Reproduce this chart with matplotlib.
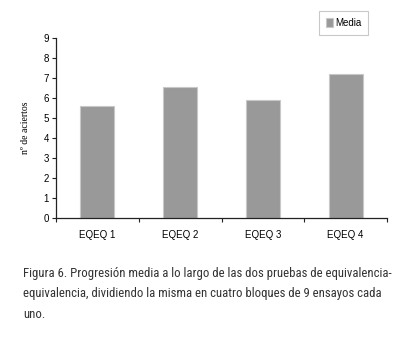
import matplotlib
matplotlib.use("Agg")
import matplotlib.pyplot as plt
from matplotlib import font_manager

categories = ["EQEQ 1", "EQEQ 2", "EQEQ 3", "EQEQ 4"]
media = [5.6, 6.55, 5.9, 7.2]
yticks = list(range(0, 10))
series_name = "Media"
caption_lines = ["Figura 6. Progresión media a lo largo de las dos pruebas de equivalencia-",
                 "equivalencia, dividiendo la misma en cuatro bloques de 9 ensayos cada",
                 "uno."]

names = {f.name for f in font_manager.fontManager.ttflist}
cap_font = "Liberation Sans"
for cand in ["Liberation Sans Narrow", "Roboto Condensed", "Open Sans Condensed", "DejaVu Sans Condensed"]:
    if cand in names:
        cap_font = cand
        break

fig = plt.figure(figsize=(4.09, 3.43), dpi=100)
ax = fig.add_axes([56/409, 1-218/343, (387-56)/409, (218-38)/343])
x = list(range(len(categories)))
ax.bar(x, media, width=0.41, color="#999999", edgecolor="#c8c8c8", linewidth=0.8, label=series_name)
ax.set_xlim(-0.5, 3.5)
ax.set_ylim(0, 9)
ax.set_yticks(yticks)
ax.set_xticks(x)
ax.set_xticklabels(categories, fontfamily="Liberation Sans", fontsize=7)
ax.set_xticks([-0.5, 0.5, 1.5, 2.5, 3.5], minor=True)
ax.tick_params(axis="x", which="major", length=0, pad=9)
ax.tick_params(axis="x", which="minor", length=3, width=0.8, direction="out", color="#222222")
ax.tick_params(axis="y", length=3, width=0.8, labelsize=7, pad=2, color="#222222")
for lab in ax.get_yticklabels():
    lab.set_fontfamily("Liberation Sans")
for s in ["top", "right"]:
    ax.spines[s].set_visible(False)
for s in ["left", "bottom"]:
    ax.spines[s].set_linewidth(0.9)
    ax.spines[s].set_color("#222222")
ax.set_ylabel("nº de aciertos", fontfamily="Liberation Serif", fontsize=7, labelpad=10)

leg = fig.legend(loc="upper left", bbox_to_anchor=(319/409, 1-11/343), prop={"family": "Liberation Sans", "size": 7},
                 frameon=True, fancybox=False, handlelength=0.75, handleheight=1.1, handletextpad=0.2,
                 borderpad=0.7, borderaxespad=0)
leg.get_frame().set_edgecolor("#bbbbbb")
leg.get_frame().set_linewidth(0.8)

# caption lines, fitted so the first line spans the same width as in the reference
line_y = [273, 294, 314]
texts = []
for ln, yy in zip(caption_lines, line_y):
    t = fig.text(23/409, 1-yy/343, ln, fontfamily=cap_font, fontsize=8, color="#333333",
                 va="center", ha="left")
    texts.append(t)
fig.canvas.draw()
r = fig.canvas.get_renderer()
w = texts[0].get_window_extent(r).width
size = 8 * 369.0 / w
size = min(size, 9.5)
for t in texts:
    t.set_fontsize(size)

fig.savefig("out.png", dpi=100, facecolor="white")
